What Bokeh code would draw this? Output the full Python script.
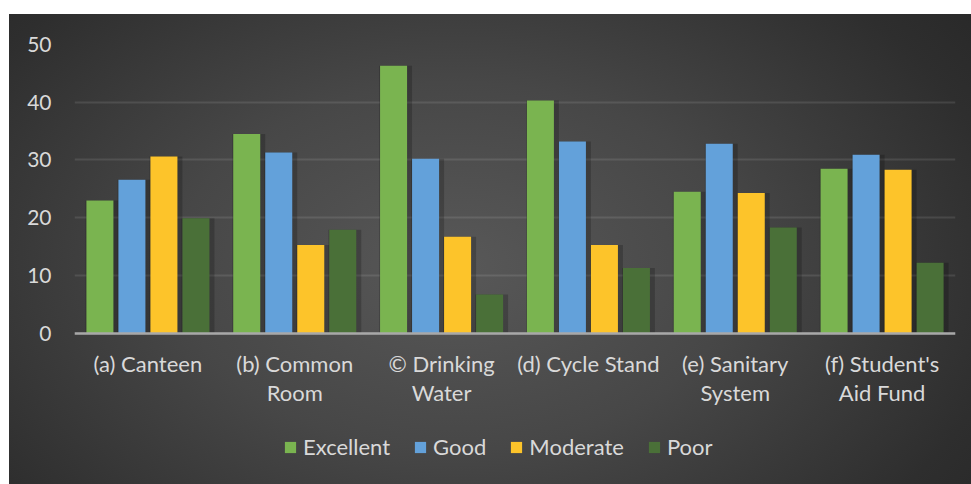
from bokeh.plotting import figure
from bokeh.models import FactorRange, Range1d, Legend, LegendItem, FixedTicker
from bokeh.transform import dodge
from bokeh.embed import file_html
from bokeh.resources import INLINE

categories = ["(a) Canteen", "(b) Common\nRoom", "\u00a9 Drinking\nWater",
              "(d) Cycle Stand", "(e) Sanitary\nSystem", "(f) Student's\nAid Fund"]
series = ["Excellent", "Good", "Moderate", "Poor"]
excellent = [23.0, 34.5, 46.3, 40.3, 24.5, 28.5]
good = [26.6, 31.3, 30.2, 33.2, 32.8, 30.9]
moderate = [30.6, 15.3, 16.7, 15.3, 24.3, 28.3]
poor = [19.9, 17.9, 6.7, 11.3, 18.3, 12.2]
y_ticks = [0, 10, 20, 30, 40, 50]

colors = ["#7ab450", "#63a1da", "#fdc42a", "#4a7038"]
offsets = [-0.327, -0.109, 0.109, 0.327]
bar_w = 0.184
FONT = "Lato"
TXT = "#d9d9d9"

bg = ("linear-gradient(#ffffff,#ffffff) top left / 100% 14px no-repeat, "
      "linear-gradient(#ffffff,#ffffff) top left / 9px 100% no-repeat, "
      "radial-gradient(ellipse 72% 95% at 47% 55%, #585858 0%, #474747 40%, #2e2e2e 80%, #262626 100%)")

# frame spans y=44..480 px; value 0 sits at ~332.7 px, value 50 at 44 px
p = figure(x_range=FactorRange(*categories), y_range=Range1d(-25.5, 50),
           width=971, height=484, output_backend="svg", toolbar_location=None,
           min_border_left=74, min_border_right=16, min_border_top=44, min_border_bottom=4,
           border_fill_color=None, background_fill_color=None, outline_line_color=None,
           styles={"background": bg})

data = dict(cat=categories, excellent=excellent, good=good, moderate=moderate, poor=poor)
keys = ["excellent", "good", "moderate", "poor"]

# soft shadows
for k, off in zip(keys, offsets):
    p.vbar(x=dodge("cat", off + 0.014, range=p.x_range), top=k, width=bar_w + 0.04,
           source=data, fill_color="black", fill_alpha=0.2, line_color=None)

items = []
for k, s, c, off in zip(keys, series, colors, offsets):
    r = p.vbar(x=dodge("cat", off, range=p.x_range), top=k, width=bar_w,
               source=data, fill_color=c, line_color=None)
    items.append(LegendItem(label=s, renderers=[r]))

ticker = FixedTicker(ticks=y_ticks)
p.yaxis.ticker = ticker
p.ygrid.ticker = ticker
p.yaxis.axis_line_color = None
p.yaxis.major_tick_line_color = None
p.yaxis.minor_tick_line_color = None
p.yaxis.major_tick_out = 0
p.yaxis.major_label_standoff = 23
p.yaxis.major_label_text_color = TXT
p.yaxis.major_label_text_font = FONT
p.yaxis.major_label_text_font_size = "21px"

p.xaxis.fixed_location = 0
p.xaxis.axis_line_color = "#a8a8a8"
p.xaxis.axis_line_width = 2.5
p.xaxis.major_tick_line_color = None
p.xaxis.major_tick_out = 0
p.xaxis.major_label_standoff = 17
p.xaxis.major_label_text_color = TXT
p.xaxis.major_label_text_font = FONT
p.xaxis.major_label_text_font_size = "22px"
p.xaxis.major_label_text_line_height = 1.05

p.xgrid.grid_line_color = None
p.ygrid.grid_line_color = "#ffffff"
p.ygrid.grid_line_alpha = 0.1
p.ygrid.grid_line_width = 2

legend = Legend(items=items, orientation="horizontal", location=(209, 20),
                label_text_color=TXT, label_text_font=FONT, label_text_font_size="22px",
                glyph_width=14, glyph_height=14, label_standoff=6, spacing=23,
                background_fill_alpha=0, border_line_color=None, margin=0, padding=4)
p.add_layout(legend, "center")

open("out.html", "w").write(file_html(p, INLINE))
